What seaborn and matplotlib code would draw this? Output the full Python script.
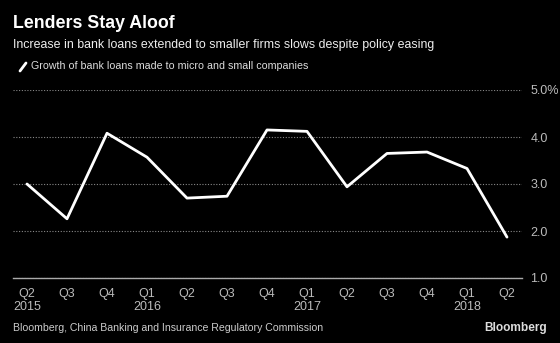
import matplotlib
matplotlib.use("Agg")
import matplotlib.pyplot as plt
import seaborn as sns
import pandas as pd

quarters = ["Q2", "Q3", "Q4", "Q1", "Q2", "Q3", "Q4", "Q1", "Q2", "Q3", "Q4", "Q1", "Q2"]
years = ["2015", "", "", "2016", "", "", "", "2017", "", "", "", "2018", ""]
growth = [3.0, 2.26, 4.08, 3.57, 2.70, 2.74, 4.15, 4.12, 2.94, 3.65, 3.68, 3.33, 1.87]
yticks = [1.0, 2.0, 3.0, 4.0, 5.0]
ytick_labels = ["1.0", "2.0", "3.0", "4.0", "5.0%"]

sns.set_theme(style="dark")
plt.rcParams["font.family"] = ["Liberation Sans", "DejaVu Sans"]

df = pd.DataFrame({"idx": range(len(growth)), "growth": growth})

W, H = 560, 343
fig = plt.figure(figsize=(5.6, 3.43), dpi=100, facecolor="black")
ax = fig.add_axes([13/W, 1 - 278/H, (522-13)/W, (278-90)/H])
ax.set_facecolor("black")
sns.lineplot(data=df, x="idx", y="growth", ax=ax, color="white", linewidth=2.0)
ax.set_xlim(-0.35, len(growth) - 1 + 0.375)
ax.set_ylim(1.0, 5.0)
ax.set_yticks(yticks)
ax.set_yticklabels(ytick_labels)
ax.yaxis.tick_right()
ax.tick_params(axis="y", length=0, pad=6, labelcolor="#bbbbbb", labelsize=9)
ax.set_xticks(range(len(growth)))
ax.set_xticklabels([q + ("\n" + y if y else "") for q, y in zip(quarters, years)], va="top")
ax.tick_params(axis="x", length=4, color="#aaaaaa", labelcolor="#bbbbbb", labelsize=9, pad=3, direction="out")
for lab in ax.get_xticklabels():
    lab.set_linespacing(1.1)
ax.grid(axis="y", color="#888888", linestyle=(0, (1, 1.5)), linewidth=0.8)
ax.grid(axis="x", visible=False)
for s in ["top", "right", "left"]:
    ax.spines[s].set_visible(False)
ax.spines["bottom"].set_color("#aaaaaa")
ax.spines["bottom"].set_linewidth(1.0)
ax.set_xlabel("")
ax.set_ylabel("")

renderer = fig.canvas.get_renderer()

def fit_text(x, y, s, width, size, ha="left", **kw):
    t = fig.text(x / W, 1 - y / H, s, fontsize=size, va="center", ha=ha, **kw)
    w = t.get_window_extent(renderer).width
    t.set_fontsize(size * width / w)
    return t

fit_text(13, 24, "Lenders Stay Aloof", 162, 14, color="white", fontweight="bold")
fit_text(13, 45, "Increase in bank loans extended to smaller firms slows despite policy easing", 419, 11, color="#eeeeee")
fig.lines.append(plt.Line2D([20/W, 26/W], [1 - 71/H, 1 - 63/H], transform=fig.transFigure, color="white", linewidth=2))
fit_text(31, 66, "Growth of bank loans made to micro and small companies", 276, 9, color="#dddddd")
fit_text(13, 328, "Bloomberg, China Banking and Insurance Regulatory Commission", 309, 9.5, color="#cccccc")
fit_text(547, 328, "Bloomberg", 63, 10.5, ha="right", color="#dddddd", fontweight="bold")

fig.savefig("out.png", dpi=100, facecolor="black")
